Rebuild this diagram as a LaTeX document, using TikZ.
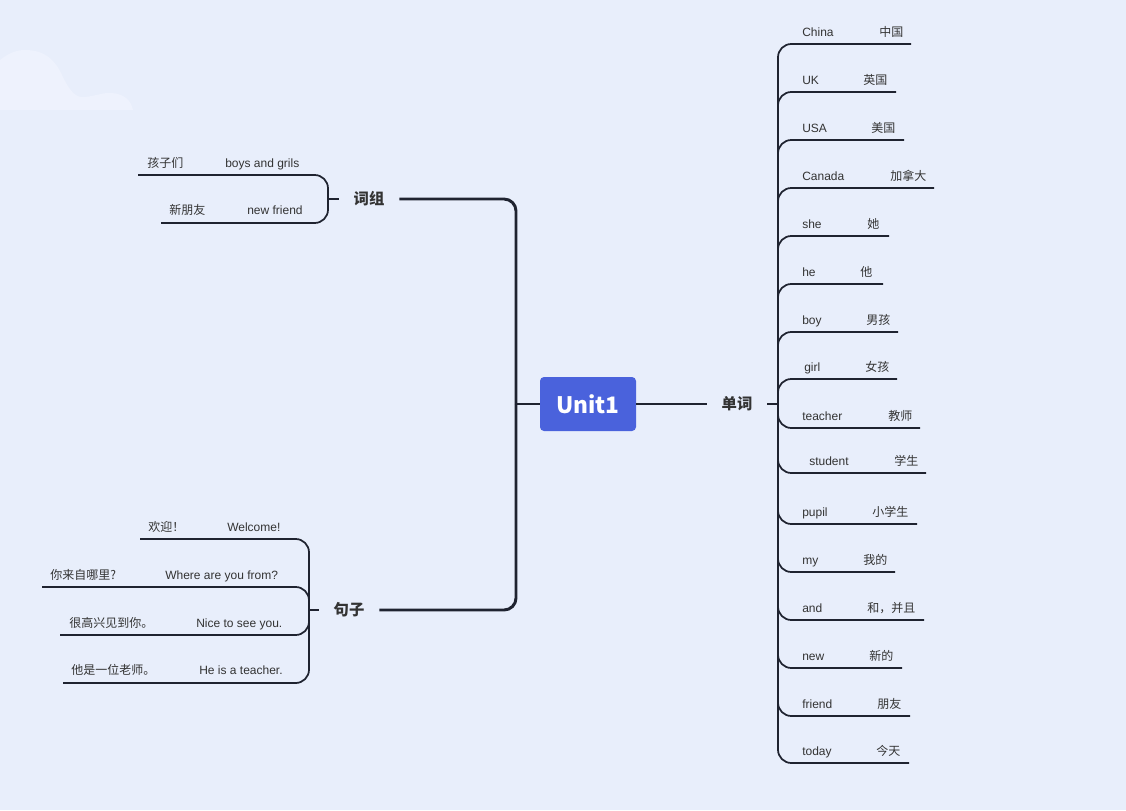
\documentclass[tikz,border=0pt]{standalone}
\usepackage{fontspec}
\setmainfont{Liberation Sans}
\newfontfamily\cjk{Noto Sans CJK SC}
\definecolor{bgc}{HTML}{E8EEFB}
\definecolor{cloudc}{HTML}{EEF2FD}
\definecolor{lnc}{HTML}{1F2330}
\definecolor{txc}{HTML}{333333}
\definecolor{unitblue}{HTML}{4A62DC}
\begin{document}
\begin{tikzpicture}[x=0.75pt,y=-0.75pt,
  en/.style={anchor=base west,inner sep=0,font=\fontsize{9}{11}\selectfont,text=txc},
  zh/.style={anchor=base west,inner sep=0,font=\fontsize{9}{11}\selectfont\cjk,text=txc},
  lbl/.style={font=\fontsize{11.5}{14}\selectfont\cjk\bfseries,text=txc,minimum width=45pt,inner sep=0},
  itemln/.style={draw=lnc,line width=1.3pt,rounded corners=10pt},
  trunkln/.style={draw=lnc,line width=1.7pt},
  mainln/.style={draw=lnc,line width=2.2pt,rounded corners=9pt},
  unitbox/.style={fill=unitblue,rounded corners=3pt,minimum width=72pt,minimum height=40.5pt,text=white,font=\fontsize{17}{20}\selectfont\cjk\bfseries,inner sep=0}]
\fill[bgc] (0,0) rectangle (1126,810);
\useasboundingbox (0,0) rectangle (1126,810);
% cloud
\fill[cloudc] (0,110) -- (0,60) .. controls (10,52) and (18,50) .. (25,50)
  .. controls (45,50) and (55,60) .. (62,75) .. controls (70,92) and (76,98) .. (85,97)
  .. controls (95,96) and (105,92) .. (112,93) .. controls (124,94) and (131,100) .. (133,110) -- cycle;

% central
\node[unitbox] (unit) at (588,404) {Unit1};
\node[lbl] (dc) at (737,404) {单词};
\node[lbl] (cz) at (369,199) {词组};
\node[lbl] (jz) at (349,610) {句子};
\coordinate (lj) at (516,404);
\coordinate (rj) at (778,404);
\coordinate (czj) at (328,199);
\coordinate (jzj) at (309,610);

\draw[mainln] (unit.east) -- (dc.west);
\draw[mainln] (unit.west) -- (lj);
\draw[mainln] (lj) |- (cz.east);
\draw[mainln] (lj) |- (jz.east);
\draw[trunkln] (dc.east) -- (rj);
\draw[itemln] (cz.west) -- (czj);
\draw[itemln] (jz.west) -- (jzj);

% right words
\foreach \yy/\en/\ex/\zh/\zx/\ee [count=\i] in {
  44/China/802/中国/879/911,
  92/UK/802/英国/863/896,
  140/USA/802/美国/871/904,
  188/Canada/802/加拿大/890/934,
  236/she/802/她/867/889,
  284/he/802/他/860/883,
  332/boy/802/男孩/866/898,
  379/girl/804/女孩/865/897,
  428/teacher/802/教师/888/920,
  473/student/809/学生/894/926,
  524/pupil/802/小学生/872/917,
  572/my/802/我的/863/895,
  620/and/802/和，并且/867/924,
  668/new/802/新的/869/902,
  716/friend/802/朋友/877/910,
  763/today/802/今天/876/909}{
  \coordinate (w\i) at (\ee,\yy);
  \draw[itemln] (rj) |- (w\i);
  \node[en] (we\i) at (\ex,\yy-7.5) {\en};
  \node[zh] (wz\i) at (\zx,\yy-7.5) {\zh};
}
\coordinate (rtop) at (778,56);
\coordinate (rbot) at (778,751);
\draw[trunkln] (rtop) -- (rbot);

% phrases
\coordinate (p1) at (138,175);
\coordinate (p2) at (161,223);
\draw[itemln] (czj) |- (p1);
\draw[itemln] (czj) |- (p2);
\node[zh] (pz1) at (147,167) {孩子们};
\node[en] (pe1) at (225,167) {boys and grils};
\node[zh] (pz2) at (169,214) {新朋友};
\node[en] (pe2) at (247,214) {new friend};

% sentences
\coordinate (s1) at (140,539);
\coordinate (s2) at (42,587);
\coordinate (s3) at (60,635);
\coordinate (s4) at (63,683);
\draw[itemln] (jzj) |- (s1);
\draw[itemln] (jzj) |- (s2);
\draw[itemln] (jzj) |- (s3);
\draw[itemln] (jzj) |- (s4);
\node[zh] (sz1) at (148,531) {欢迎！};
\node[en] (se1) at (227,531) {Welcome!};
\node[zh] (sz2) at (50,579) {你来自哪里?};
\node[en] (se2) at (165,579) {Where are you from?};
\node[zh] (sz3) at (69,627) {很高兴见到你。};
\node[en] (se3) at (196,627) {Nice to see you.};
\node[zh] (sz4) at (71,674) {他是一位老师。};
\node[en] (se4) at (199,674) {He is a teacher.};
\end{tikzpicture}
\end{document}
